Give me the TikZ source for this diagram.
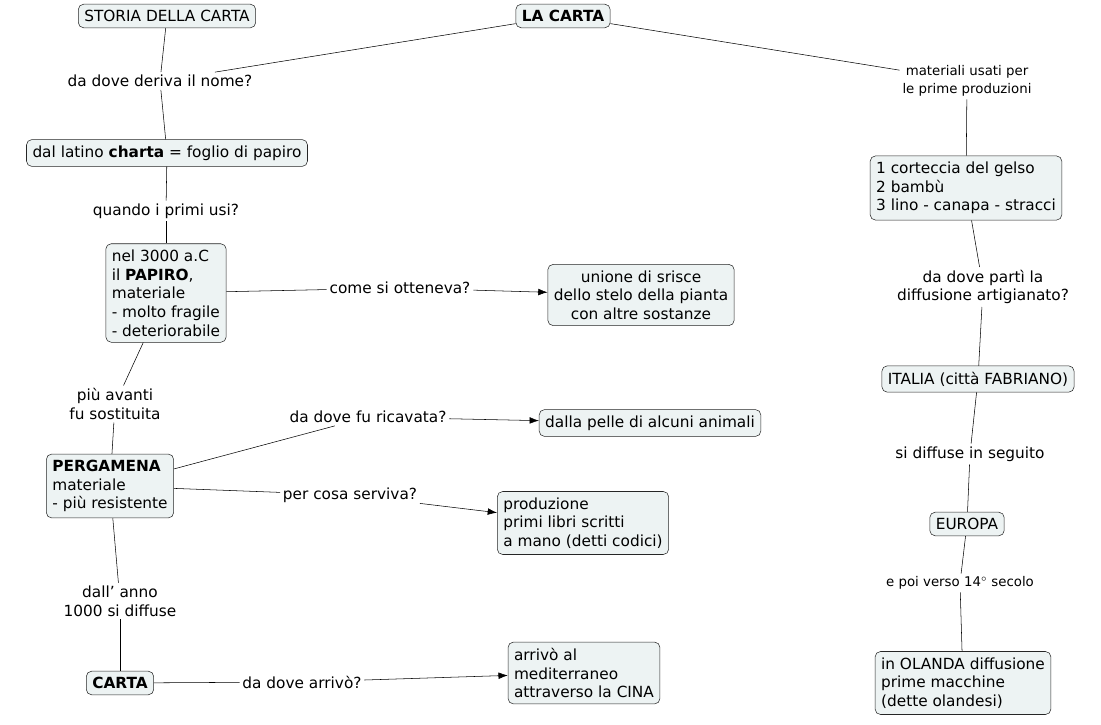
\documentclass[tikz,border=0pt]{standalone}
\usepackage{fontspec}
\setmainfont{DejaVu Sans}
\usetikzlibrary{arrows.meta}
\definecolor{conceptfill}{RGB}{237,243,243}
\begin{document}
\begin{tikzpicture}[x=0.75pt,y=-0.75pt,thin]
        %
        % `concept' is used for the boxes, `link' for the linking phrases.
        \tikzstyle{concept} = [draw=black!85,fill=conceptfill,rounded corners=4pt,
          inner sep=4.5pt,font=\fontsize{11.5}{14}\selectfont]
        \tikzstyle{link} = [inner sep=2pt,align=center,font=\fontsize{11.5}{14}\selectfont]
        \tikzstyle{small} = [inner sep=2pt,align=center,font=\fontsize{10}{13.5}\selectfont]
        \tikzstyle{arrow} = [-{Latex[length=7pt,width=5pt]}]
        \useasboundingbox (0,0) rectangle (1101,725);
        %
        % Left column
        \node[concept] (storia) at (167,16) {STORIA DELLA CARTA};
        \node[concept,font=\fontsize{11.5}{14}\selectfont\bfseries] (lacarta) at (563,16) {LA CARTA};
        \node[link] (nome) at (160,81) {da dove deriva il nome?};
        \node[concept] (latino) at (167,153) {dal latino \textbf{charta} = foglio di papiro};
        \node[link] (usi) at (166,211) {quando i primi usi?};
        \node[concept,align=left] (papiro) at (166,293) {nel 3000 a.C\\il \textbf{PAPIRO},\\materiale\\- molto fragile\\- deteriorabile};
        \node[link] (otteneva) at (400,288) {come si otteneva?};
        \node[concept,align=center] (unione) at (641,295) {unione di srisce\\dello stelo della pianta\\con altre sostanze};
        \node[link] (sostituita) at (115,404) {più avanti\\fu sostituita};
        \node[concept,align=left] (pergamena) at (110,486) {\textbf{PERGAMENA}\\materiale\\- più resistente};
        \node[link] (ricavata) at (368,417) {da dove fu ricavata?};
        \node[concept] (pelle) at (650,423) {dalla pelle di alcuni animali};
        \node[link] (serviva) at (350,495) {per cosa serviva?};
        \node[concept,align=left] (produzione) at (583,523) {produzione\\primi libri scritti\\a mano (detti codici)};
        \node[link] (anno) at (120,601) {dall' anno\\1000 si diffuse};
        \node[concept,font=\fontsize{11.5}{14}\selectfont\bfseries] (carta) at (120,683) {CARTA};
        \node[link] (arrivo) at (302,682) {da dove arrivò?};
        \node[concept,align=left] (cina) at (584,673) {arrivò al\\mediterraneo\\attraverso la CINA};
        %
        % Right column
        \node[small] (materiali) at (967,81) {materiali usati per\\le prime produzioni};
        \node[concept,align=left] (gelso) at (966,188) {1 corteccia del gelso\\2 bambù\\3 lino - canapa - stracci};
        \node[link] (parti) at (983,287) {da dove partì la\\diffusione artigianato?};
        \node[concept] (italia) at (978,379) {ITALIA (città FABRIANO)};
        \node[link] (seguito) at (970,454) {si diffuse in seguito};
        \node[concept] (europa) at (967,524) {EUROPA};
        \node[small] (secolo) at (960,583) {e poi verso 14$^\circ$ secolo};
        \node[concept,align=left] (olanda) at (963,683) {in OLANDA diffusione\\prime macchine\\(dette olandesi)};
        %
        % Connectors
        \draw (storia) -- (nome);
        \draw (lacarta) -- (nome);
        \draw (nome) -- (latino);
        \draw (latino) -- (usi);
        \draw (usi) -- (papiro);
        \draw (papiro) -- (otteneva);
        \draw[arrow] (otteneva) -- (unione);
        \draw (papiro) -- (sostituita);
        \draw (sostituita) -- (pergamena);
        \draw (pergamena) -- (ricavata);
        \draw[arrow] (ricavata) -- (pelle);
        \draw (pergamena) -- (serviva);
        \draw[arrow] (serviva) -- (produzione);
        \draw (pergamena) -- (anno);
        \draw (anno) -- (carta);
        \draw (carta) -- (arrivo);
        \draw[arrow] (arrivo) -- (cina);
        \draw (lacarta) -- (materiali);
        \draw (materiali) -- (gelso);
        \draw (gelso) -- (parti);
        \draw (parti) -- (italia);
        \draw (italia) -- (seguito);
        \draw (seguito) -- (europa);
        \draw (europa) -- (secolo);
        \draw (secolo) -- (olanda);
\end{tikzpicture}
\end{document}
